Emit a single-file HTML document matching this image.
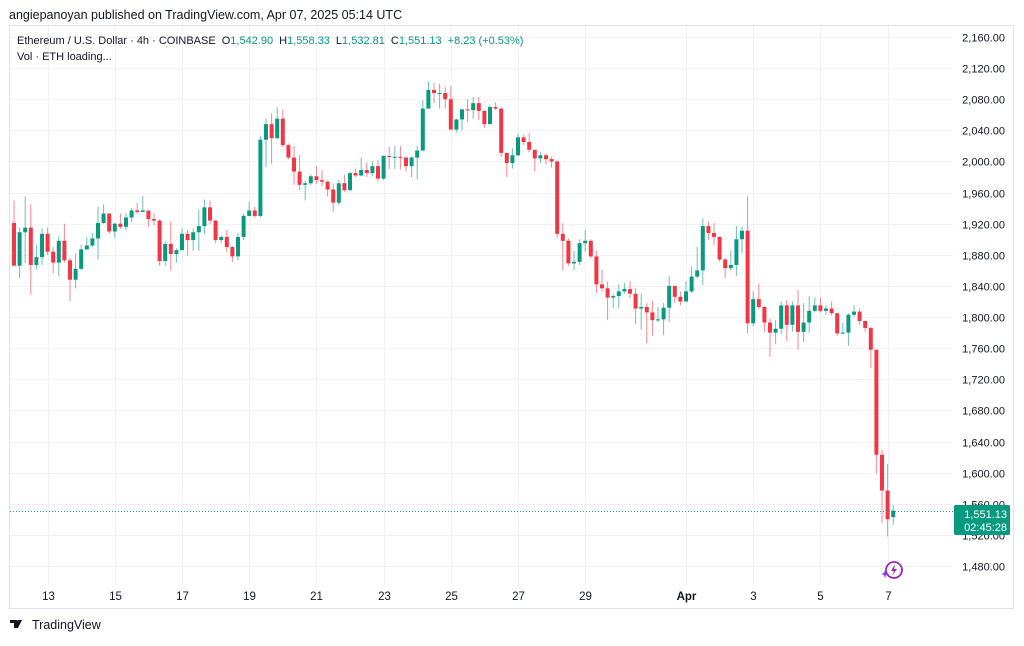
<!DOCTYPE html>
<html><head><meta charset="utf-8">
<style>
html,body{margin:0;padding:0;background:#fff;}
body{width:1024px;height:641px;overflow:hidden;font-family:"Liberation Sans",sans-serif;}
</style></head>
<body>
<svg id="chart" width="1024" height="641" viewBox="0 0 1024 641" xmlns="http://www.w3.org/2000/svg" font-family="Liberation Sans, sans-serif">
<rect x="0" y="0" width="1024" height="641" fill="#fff"/>
<text x="9" y="19" font-size="12.5" fill="#131722">angiepanoyan published on TradingView.com, Apr 07, 2025 05:14 UTC</text>
<rect x="9.5" y="25.5" width="1004" height="583" fill="none" stroke="#e0e3eb"/>
<g id="grid"></g>
<g id="candles"></g>
<line id="curline" x1="10" x2="953" stroke="#22a88f" stroke-opacity="1" stroke-width="1" stroke-dasharray="1,2" shape-rendering="crispEdges"/>
<g id="yaxis"></g>
<g id="xaxis"></g>
<g>
<rect x="954" y="505" width="56" height="30" rx="2" fill="#089981"/>
<text x="1007" y="518" font-size="11" fill="#fff" text-anchor="end">1,551.13</text>
<text x="1007" y="531" font-size="11" fill="#fff" text-anchor="end">02:45:28</text>
</g>
<text x="17" y="44" font-size="11" fill="#131722">Ethereum / U.S. Dollar · 4h · COINBASE <tspan dx="3">O</tspan><tspan fill="#089981">1,542.90</tspan><tspan dx="6">H</tspan><tspan fill="#089981">1,558.33</tspan><tspan dx="6">L</tspan><tspan fill="#089981">1,532.81</tspan><tspan dx="6">C</tspan><tspan fill="#089981">1,551.13</tspan><tspan dx="6" fill="#089981">+8.23 (+0.53%)</tspan></text>
<text x="17" y="60" font-size="11" fill="#131722">Vol · ETH loading...</text>
<g>
<circle cx="894" cy="570" r="8" fill="none" stroke="#9c27b0" stroke-width="1.8"/>
<path d="M895 564 L891 571 L894 571 L892 576 L897 569 L894 569 Z" fill="#9c27b0"/>
<path d="M884 573 l1 -3 l1 3 l3 1 l-3 1 l-1 3 l-1 -3 l-3 -1 z" fill="#7b3ff2"/>
</g>
<g>
<path d="M10 620 h7 v8 h-3 v-5 h-4 z M18 620 h4 l-4 8 h-3 z" fill="#131722"/>
<circle cx="18.5" cy="621.5" r="1.5" fill="#131722"/>
<text x="32" y="629" font-size="12.5" fill="#131722">TradingView</text>
</g>
</svg>
<script>
const closes=[1866,1909,1915,1867,1877,1907,1884,1870,1898,1873,1848,1862,1887,1892,1901,1921,1933,1910,1920,1916,1928,1937,1935,1937,1926,1924,1872,1894,1881,1886,1907,1899,1909,1917,1941,1924,1899,1903,1890,1878,1903,1930,1937,1930,2028,2048,2030,2055,2021,2005,1987,1970,1972,1981,1976,1974,1964,1947,1972,1963,1985,1982,1989,1985,1994,1978,2007,2006,2006,2005,1994,2005,2014,2068,2092,2088,2088,2080,2041,2054,2067,2066,2075,2065,2048,2070,2068,2011,1998,2008,2031,2025,2015,2004,2008,2003,2000,1907,1898,1869,1871,1895,1898,1878,1842,1837,1825,1827,1833,1836,1830,1811,1813,1806,1796,1797,1812,1840,1826,1820,1833,1852,1860,1917,1908,1903,1874,1863,1867,1900,1911,1792,1823,1813,1793,1780,1785,1815,1790,1815,1781,1793,1808,1815,1808,1811,1805,1779,1780,1803,1807,1795,1786,1758,1623,1577,1540,1551.13];
const opens=[1921,1866,1909,1915,1867,1877,1907,1884,1870,1898,1873,1848,1862,1887,1892,1901,1921,1933,1910,1920,1916,1928,1937,1935,1937,1926,1924,1872,1894,1881,1886,1907,1899,1909,1917,1941,1924,1899,1903,1890,1878,1903,1930,1937,1930,2028,2048,2030,2055,2021,2005,1987,1970,1972,1981,1976,1974,1964,1947,1972,1963,1985,1982,1989,1985,1994,1978,2007,2006,2006,2005,1994,2005,2014,2068,2092,2088,2088,2080,2041,2054,2067,2066,2075,2065,2048,2070,2068,2011,1998,2008,2031,2025,2015,2004,2008,2003,2000,1907,1898,1869,1871,1895,1898,1878,1842,1837,1825,1827,1833,1836,1830,1811,1813,1806,1796,1797,1812,1840,1826,1820,1833,1852,1860,1917,1908,1903,1874,1863,1867,1900,1911,1792,1823,1813,1793,1780,1785,1815,1790,1815,1781,1793,1808,1815,1808,1811,1805,1779,1780,1803,1807,1795,1786,1758,1623,1577,1542.9];
const highs=[1950,1915,1955,1945,1893,1914,1915,1890,1904,1920,1876,1882,1893,1903,1908,1942,1945,1934,1921,1933,1934,1940,1947,1956,1937,1933,1926,1897,1923,1888,1914,1912,1914,1938,1951,1950,1925,1905,1912,1891,1908,1933,1948,1942,2033,2055,2062,2070,2067,2023,2020,2008,1975,1983,1994,1989,1975,1972,1976,1983,1987,1991,2005,1999,2000,2002,2008,2019,2020,2020,2006,2007,2020,2079,2103,2101,2100,2096,2097,2055,2068,2080,2083,2083,2066,2072,2076,2070,2011,2017,2036,2034,2036,2015,2012,2010,2006,2002,1921,1901,1885,1900,1912,1900,1885,1861,1846,1830,1842,1844,1846,1837,1830,1818,1821,1813,1818,1853,1840,1833,1846,1865,1890,1927,1923,1921,1904,1876,1886,1917,1916,1956,1833,1843,1814,1798,1796,1820,1822,1820,1835,1818,1827,1825,1825,1815,1820,1805,1793,1805,1815,1811,1795,1788,1758,1629,1611,1558.33];
const lows=[1866,1850,1869,1829,1861,1867,1880,1856,1852,1870,1820,1837,1860,1886,1890,1874,1920,1907,1902,1913,1912,1922,1932,1935,1916,1918,1866,1866,1860,1870,1886,1879,1885,1885,1907,1920,1895,1895,1884,1871,1873,1899,1930,1928,1928,1993,1997,2028,2019,2003,1970,1963,1950,1970,1971,1968,1955,1935,1944,1961,1963,1980,1981,1980,1981,1974,1976,1990,1990,1990,1987,1980,1977,2014,2068,2075,2068,2068,2041,2037,2040,2051,2055,2053,2043,2048,2066,2006,1980,1991,2007,2021,2012,1987,1998,1996,1992,1902,1860,1866,1860,1867,1884,1876,1831,1833,1796,1811,1811,1830,1824,1791,1784,1766,1776,1793,1777,1794,1818,1815,1820,1831,1850,1841,1899,1893,1871,1850,1860,1853,1882,1779,1788,1810,1781,1749,1765,1778,1769,1781,1758,1768,1780,1806,1806,1803,1802,1776,1778,1763,1800,1790,1781,1734,1599,1535,1518,1532.81];
const priceTicks=[2160,2120,2080,2040,2000,1960,1920,1880,1840,1800,1760,1720,1680,1640,1600,1560,1520,1480];
const dateLabels=["13","15","17","19","21","23","25","27","29","Apr","3","5","7"];
const dateIndex=[6,18,30,42,54,66,78,90,102,120,132,144,156];
const lastPrice=1551.13;

const NS="http://www.w3.org/2000/svg";
function yOf(p){return 37+(2160-p)*(529/680);}
function xOf(i){return 14+i*5.6;}
function mk(tag,attrs,parent){const e=document.createElementNS(NS,tag);for(const k in attrs)e.setAttribute(k,attrs[k]);parent.appendChild(e);return e;}
const grid=document.getElementById('grid'),yax=document.getElementById('yaxis'),xax=document.getElementById('xaxis'),cg=document.getElementById('candles');
priceTicks.forEach(p=>{
  const y=Math.round(yOf(p))+0.5;
  const gl=mk('line',{x1:10,x2:953,y1:y,y2:y,stroke:'#f2f2f4','stroke-width':1},grid);
  
  
  const t=mk('text',{x:1005,y:y+4,'font-size':11,fill:'#131722','text-anchor':'end'},yax);
  
  
  t.textContent=p.toLocaleString('en-US',{minimumFractionDigits:2,maximumFractionDigits:2});
});
dateLabels.forEach((d,k)=>{
  const x=Math.round(xOf(dateIndex[k]))+0.5;
  const gl=mk('line',{x1:x,x2:x,y1:26,y2:585,stroke:'#f2f2f4','stroke-width':1},grid);
  
  
  const t=mk('text',{x:x,y:600,'font-size':11.5,fill:'#131722','text-anchor':'middle','font-weight':d==='Apr'?'bold':'normal'},xax);
  
  
  t.textContent=d;
});
closes.forEach((c,i)=>{
  const o=opens[i],h=Math.max(highs[i],o,c),l=Math.min(lows[i],o,c);
  const col=c>=o?'#089981':'#f23645';
  const x=xOf(i);
  const g=mk('g',{},cg);
  
  
  mk('line',{x1:x,x2:x,y1:yOf(h),y2:yOf(l),stroke:col,'stroke-width':1,'stroke-opacity':0.6},g);
  const top=yOf(Math.max(o,c)),bot=yOf(Math.min(o,c));
  mk('rect',{x:x-2,y:top,width:4,height:Math.max(1,bot-top),fill:col},g);
});
const cl=document.getElementById('curline');
cl.setAttribute('y1',Math.round(yOf(lastPrice))+0.5);cl.setAttribute('y2',Math.round(yOf(lastPrice))+0.5);
</script>
</body></html>
